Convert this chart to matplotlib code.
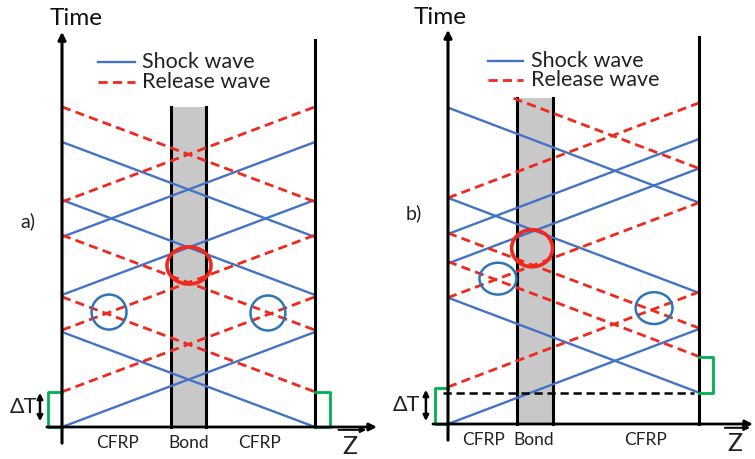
import numpy as np
import matplotlib
matplotlib.use("Agg")
import matplotlib.pyplot as plt
from matplotlib.patches import Ellipse, Rectangle

plt.rcParams['font.family'] = ['Lato', 'DejaVu Sans']

# Times (in wave-transit units) at which a wave leaves a wall.
# "right" = travelling +Z (leaves left wall), "left" = travelling -Z (leaves right wall)
a_shock_right = [0.0, 1.39, 2.0]
a_release_right = [0.37, 1.02, 2.37]
a_shock_left = [0.0, 1.39, 2.0]
a_release_left = [0.37, 1.02, 2.37]
a_bond = [0.43, 0.57]
a_top = 3.37
a_dt = 0.37

b_shock_right = [0.0, 1.69, 2.0]
b_release_right = [0.39, 1.33, 2.38]
b_shock_left = [0.33, 1.38, 2.33]
b_release_left = [0.71, 1.01, 2.69]
b_bond = [0.275, 0.418]
b_top = 3.43
b_dt0 = 0.33   # arrival of the first shock at the rear face
b_dt1 = 0.71

# highlighted crossings: (z, t)
a_red_mark = (0.502, 1.70)
a_blue_marks = [(0.186, 1.21), (0.814, 1.20)]
b_red_mark = (0.335, 1.85)
b_blue_marks = [(0.199, 1.53), (0.821, 1.22)]

labels_a = ["CFRP", "Bond", "CFRP"]
labels_b = ["CFRP", "Bond", "CFRP"]

BLUE = "#4472C4"
RED = "#F0281E"
GREEN = "#00B050"
CIRC_BLUE = "#2E75B6"
TXT = "#222222"

W, H = 755, 459
fig = plt.figure(figsize=(W / 100, H / 100), dpi=100)


def make_axes(x0, x1, wall_l, width, bottom):
    # axes spanning pixel columns x0..x1, z=0 at wall_l, z=1 at wall_l+width,
    # t=0 at pixel row `bottom`, one transit = 95 px
    ax = fig.add_axes([x0 / W, 0, (x1 - x0) / W, 1])
    ax.set_xlim((x0 - wall_l) / width, (x1 - wall_l) / width)
    ax.set_ylim((bottom - H) / 95, bottom / 95)
    ax.axis("off")
    return ax


def wave(ax, t0, direction, color, ls, tmax):
    z = np.linspace(0, 1, 200)
    if direction > 0:
        t = t0 + z
    else:
        t = t0 + (1 - z)
    keep = t <= tmax + 1e-9
    if ls == "-":
        ax.plot(z[keep], t[keep], color=color, lw=1.7, solid_capstyle="butt")
    else:
        ax.plot(z[keep], t[keep], color=color, lw=2.0, dashes=(3.3, 1.9))


def panel(ax, sr, rr, sl, rl, bond, top, right_top, left_tip, zaxis_end):
    ax.add_patch(Rectangle((bond[0], 0), bond[1] - bond[0], top,
                           facecolor="#C8C8C8", edgecolor="none", zorder=0))
    for zb in bond:
        ax.plot([zb, zb], [0, top], color="black", lw=2.2, zorder=1)
    for t0 in sr:
        wave(ax, t0, 1, BLUE, "-", top)
    for t0 in sl:
        wave(ax, t0, -1, BLUE, "-", top)
    for t0 in rr:
        wave(ax, t0, 1, RED, "--", top)
    for t0 in rl:
        wave(ax, t0, -1, RED, "--", top)
    # walls and axes
    ax.annotate("", xy=(0, left_tip), xytext=(0, -0.17),
                arrowprops=dict(arrowstyle="-|>", lw=2.2, color="black",
                                mutation_scale=11, shrinkA=0, shrinkB=0))
    ax.plot([1, 1], [0, right_top], color="black", lw=2.2)
    ax.annotate("", xy=(zaxis_end, 0), xytext=(-0.06, 0),
                arrowprops=dict(arrowstyle="-|>", lw=2.0, color="black",
                                mutation_scale=11, shrinkA=0, shrinkB=0),
                annotation_clip=False)


def marks(ax, red, blues, red_wh, blue_wh):
    ax.add_patch(Ellipse(red, red_wh[0], red_wh[1], fill=False,
                         edgecolor=RED, lw=2.6, zorder=5))
    for c in blues:
        ax.add_patch(Ellipse(c, blue_wh[0], blue_wh[1], fill=False,
                             edgecolor=CIRC_BLUE, lw=1.8, zorder=5))


def legend(ax, z0, z1, t_s, t_r):
    ax.plot([z0, z1], [t_s, t_s], color=BLUE, lw=1.7)
    ax.plot([z0, z1], [t_r, t_r], color=RED, lw=2.0, dashes=(3.3, 1.9))
    ax.text(z1 + 0.03, t_s, "Shock wave", fontsize=15.5, va="center", color=TXT)
    ax.text(z1 + 0.03, t_r, "Release wave", fontsize=15.5, va="center", color=TXT)


def delta_t(ax, z_txt, z_arr, t0, t1):
    ax.annotate("", xy=(z_arr, t1), xytext=(z_arr, t0),
                arrowprops=dict(arrowstyle="<|-|>", lw=1.8, color="black",
                                mutation_scale=8, shrinkA=0, shrinkB=0),
                annotation_clip=False)
    ax.text(z_txt, (t0 + t1) / 2, "ΔT", fontsize=15.5, va="center", ha="right",
            color=TXT)


def zlabel(ax, zc, t_txt, t_arr, half):
    ax.text(zc, t_txt, "Z", fontsize=18, ha="center", va="center", color=TXT)
    ax.annotate("", xy=(zc + half + 0.02, t_arr), xytext=(zc - half, t_arr),
                arrowprops=dict(arrowstyle="-|>", lw=1.4, color="black",
                                mutation_scale=8, shrinkA=0, shrinkB=0),
                annotation_clip=False)


# ---- panel a ----
ax1 = make_axes(0, 377.5, 62, 253, 427)
panel(ax1, a_shock_right, a_release_right, a_shock_left, a_release_left,
      a_bond, a_top, 4.07, 4.16, 1.245)
marks(ax1, a_red_mark, a_blue_marks, (0.174, 0.39), (0.138, 0.368))
legend(ax1, 0.142, 0.288, 3.84, 3.63)
ax1.plot([0, -0.055, -0.055, 0], [0, 0, a_dt, a_dt], color=GREEN, lw=2.0)
ax1.plot([1, 1.06, 1.06, 1], [0, 0, a_dt, a_dt], color=GREEN, lw=2.0)
delta_t(ax1, -0.1, -0.087, 0.06, 0.36)
ax1.text(0.055, 4.3, "Time", fontsize=17.5, ha="center", va="center", color="#111111")
ax1.text(-0.163, 2.17, "a)", fontsize=14, ha="left", va="center", color=TXT)
for zc, lab in zip([0.22, 0.5, 0.78], labels_a):
    ax1.text(zc, -0.17, lab, fontsize=12.5, ha="center", va="center", color=TXT)
zlabel(ax1, 1.138, -0.2, -0.03, 0.045)

# ---- panel b ----
ax2 = make_axes(377.5, 755, 448, 251, 424)
panel(ax2, b_shock_right, b_release_right, b_shock_left, b_release_left,
      b_bond, b_top, 4.07, 4.15, 1.215)
marks(ax2, b_red_mark, b_blue_marks, (0.163, 0.39), (0.147, 0.335))
legend(ax2, 0.159, 0.299, 3.82, 3.62)
ax2.plot([-0.02, 0.98], [b_dt0, b_dt0], color="black", lw=1.8, dashes=(3.3, 1.9))
ax2.plot([0, -0.052, -0.052, 0], [0, 0, 0.38, 0.38], color=GREEN, lw=2.0)
ax2.plot([1, 1.056, 1.056, 1], [b_dt0, b_dt0, b_dt1, b_dt1], color=GREEN, lw=2.0)
delta_t(ax2, -0.11, -0.088, 0.03, 0.36)
ax2.text(-0.03, 4.28, "Time", fontsize=17.5, ha="center", va="center", color="#111111")
ax2.text(-0.167, 2.22, "b)", fontsize=14, ha="left", va="center", color=TXT)
for zc, lab in zip([0.14, 0.34, 0.787], labels_b):
    ax2.text(zc, -0.17, lab, fontsize=12.5, ha="center", va="center", color=TXT)
zlabel(ax2, 1.143, -0.21, -0.04, 0.04)

fig.savefig("out.png", dpi=100)
